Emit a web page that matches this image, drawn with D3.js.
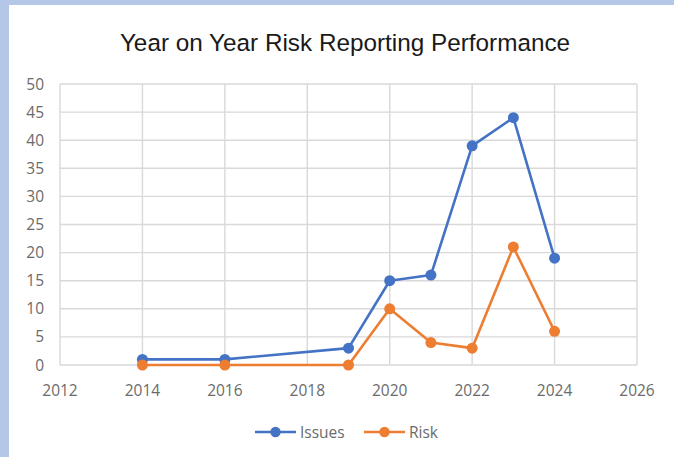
<!DOCTYPE html>
<html><head><meta charset="utf-8">
<script src="https://cdn.jsdelivr.net/npm/d3@7"></script>
<style>html,body{margin:0;padding:0;background:#fff;}</style>
</head><body>
<svg id="c" width="674" height="457"></svg>
<script>
const years = [2014, 2016, 2019, 2020, 2021, 2022, 2023, 2024];
const issues = [1, 1, 3, 15, 16, 39, 44, 19];
const risk = [0, 0, 0, 10, 4, 3, 21, 6];
const seriesNames = ["Issues", "Risk"];
const xTicks = [2012, 2014, 2016, 2018, 2020, 2022, 2024, 2026];
const yTicks = [0, 5, 10, 15, 20, 25, 30, 35, 40, 45, 50];
const title = "Year on Year Risk Reporting Performance";

const svg = d3.select("#c");
const W = 674, H = 457;
svg.append("rect").attr("width", W).attr("height", H).attr("fill", "#b4c7e7");
svg.append("rect").attr("x", 9).attr("y", 5).attr("width", W - 9).attr("height", H - 5).attr("fill", "#fff");

const x = d3.scaleLinear().domain([2012, 2026]).range([60, 637]);
const y = d3.scaleLinear().domain([0, 50]).range([365, 84]);

const grid = "#d9d9d9";
svg.append("g").selectAll("line").data(yTicks).join("line")
  .attr("x1", x(2012)).attr("x2", x(2026)).attr("y1", d => y(d)).attr("y2", d => y(d))
  .attr("stroke", grid).attr("stroke-width", 1.4);
svg.append("g").selectAll("line").data(xTicks).join("line")
  .attr("y1", y(0)).attr("y2", y(50)).attr("x1", d => x(d)).attr("x2", d => x(d))
  .attr("stroke", grid).attr("stroke-width", 1.4);

const font = "'Open Sans', 'Liberation Sans', sans-serif";
const fs = 15.5;
svg.append("g").selectAll("text").data(yTicks).join("text")
  .attr("x", 44).attr("y", d => y(d) + 5.5).attr("text-anchor", "end")
  .attr("font-family", font).attr("font-size", fs).attr("fill", "#6b6b6b").text(d => d);
svg.append("g").selectAll("text").data(xTicks).join("text")
  .attr("x", d => x(d)).attr("y", 396).attr("text-anchor", "middle")
  .attr("font-family", font).attr("font-size", fs).attr("fill", "#6b6b6b").text(d => d);

svg.append("text").attr("x", 345).attr("y", 51).attr("text-anchor", "middle")
  .attr("font-family", "'Liberation Sans', Arial, sans-serif").attr("font-size", 24.3)
  .attr("fill", "#1a1a1a").text(title);

const colors = ["#4472c4", "#ed7d31"];
const data = [issues, risk];
const line = d3.line().x((d, i) => x(years[i])).y(d => y(d));
data.forEach((s, k) => {
  svg.append("path").datum(s).attr("d", line).attr("fill", "none")
    .attr("stroke", colors[k]).attr("stroke-width", 2.6).attr("stroke-linejoin", "round");
  svg.append("g").selectAll("circle").data(s).join("circle")
    .attr("cx", (d, i) => x(years[i])).attr("cy", d => y(d)).attr("r", 5.5).attr("fill", colors[k]);
});

const legX = [255, 364];
seriesNames.forEach((n, k) => {
  const g = svg.append("g").attr("transform", `translate(${legX[k]},432)`);
  g.append("line").attr("x1", 0).attr("x2", 41).attr("stroke", colors[k]).attr("stroke-width", 2.6);
  g.append("circle").attr("cx", 20.5).attr("r", 5.2).attr("fill", colors[k]);
  g.append("text").attr("x", 45).attr("y", 5.5).attr("font-family", font).attr("font-size", fs)
    .attr("fill", "#6b6b6b").text(n);
});
</script>
</body></html>
